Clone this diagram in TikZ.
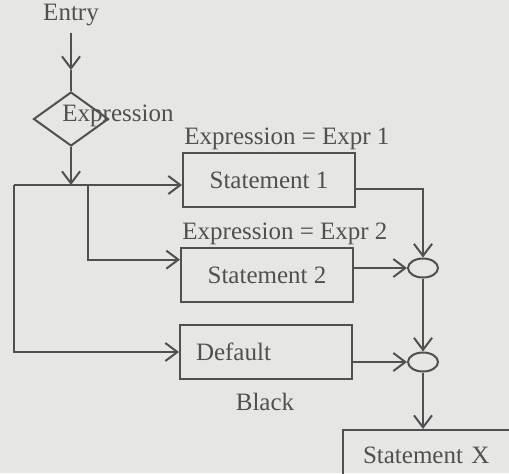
\documentclass[tikz,border=0pt]{standalone}
\usepackage{fontspec}
\setmainfont{Liberation Serif}
\usetikzlibrary{shapes.geometric,arrows.meta}
\definecolor{scanbg}{RGB}{230,230,228}
\definecolor{inkgray}{RGB}{80,80,80}

\begin{document}
\begin{tikzpicture}[x=0.5pt,y=-0.5pt,
  font=\fontsize{12.5}{14}\selectfont,
  every node/.style={text=inkgray},
  box/.style={draw=inkgray,line width=1pt,minimum width=86pt,minimum height=27pt,inner sep=0pt},
  merge/.style={draw=inkgray,line width=1pt,ellipse,minimum width=15pt,minimum height=9.5pt,inner sep=0pt},
  flow/.style={draw=inkgray,line width=1pt,-{Straight Barb[length=6pt,width=9pt]}},
  wire/.style={draw=inkgray,line width=1pt}]
\useasboundingbox (0,0) rectangle (509,473);
\clip (0,0) rectangle (509,473);
\fill[scanbg] (0,0) rectangle (509,473);

\node (entry) at (71,15) {Entry};
\node[diamond,draw=inkgray,line width=1pt,minimum width=37.5pt,minimum height=27pt,inner sep=0pt] (dec) at (71,119) {};
\node (dectext) at (118,116) {Expression};

\node[box] (s1) at (269,180) {Statement 1};
\node[box] (s2) at (267,275) {Statement 2};
\node[box,text width=70pt,align=left] (s3) at (266,352) {Default};
\node[anchor=south west,inner sep=1pt] (c1) at (s1.north west) {Expression = Expr 1};
\node[anchor=south west,inner sep=1pt] (c2) at (s2.north west) {Expression = Expr 2};
\node (blk) at (265,402) {Black};

\node[merge] (e1) at (423,268) {};
\node[merge] (e2) at (423,362) {};
\node[box,minimum width=100pt,minimum height=25pt,text width=80pt,align=left] (sx) at (443,455) {Statement X};

\coordinate (ea) at (71,70);
\coordinate (j) at (71,185);
\coordinate (ls) at (14,185);
\coordinate (ms) at (88,185);

% entry and test
\draw[flow] (entry) -- (ea);
\draw[wire] (ea) -- (dec.north);
\draw[flow] (dec.south) -- (j);

% branches
\draw[flow] (ls) -- (ls -| s1.west);
\draw[flow] (ms) |- (s2.170);
\draw[flow] (ls) |- (s3.west);

% join
\draw[flow] (s1.-6) -| (e1);
\draw[flow] (s2.east |- e1) -- (e1);
\draw[flow] (s3.east |- e2) -- (e2);
\draw[flow] (e1) -- (e2);
\draw[flow] (e2) -- (e2 |- sx.north);
\end{tikzpicture}
\end{document}
